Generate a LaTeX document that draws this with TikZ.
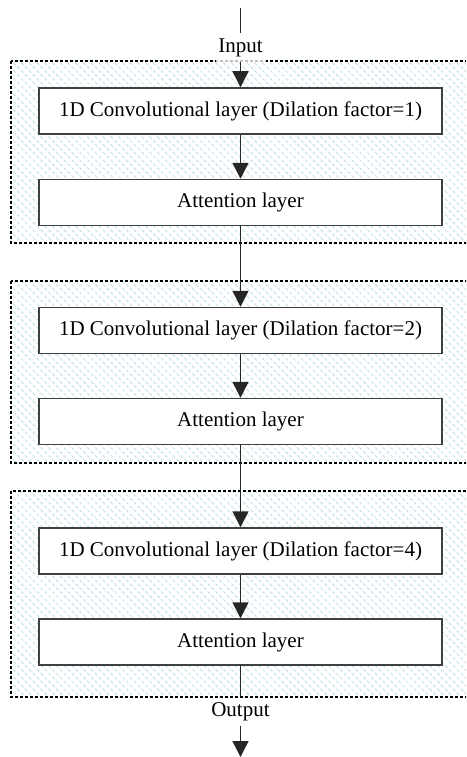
\documentclass[tikz,border=0pt]{standalone}
\usepackage{fontspec}
\setmainfont{Liberation Serif}
\usetikzlibrary{arrows.meta,patterns.meta}
\definecolor{hatch}{HTML}{C4E2EB}
\definecolor{boxline}{HTML}{404040}
\begin{document}
\begin{tikzpicture}[x=1pt,y=-1pt,
  every node/.style={font=\fontsize{21}{24}\selectfont},
  layerbox/.style={draw=boxline,line width=1.5pt,fill=white,minimum width=403pt,minimum height=46pt,inner sep=0pt},
  group/.style={draw=black,line width=1.5pt,dash pattern=on 3pt off 2pt,pattern={Lines[angle=-45,distance=5.5pt,line width=1pt]},pattern color=hatch},
  conn/.style={draw=black!85,line width=1.5pt},
  arr/.style={conn,-{Triangle[width=16pt,length=16pt]}},
  label/.style={inner sep=0pt,minimum height=29pt,text height=14pt,text depth=4pt}]
\useasboundingbox (0,0) rectangle (466,757);
\clip (0,0) rectangle (466,757);
\draw[group] (11,61) rectangle (480,243);
\draw[group] (11,281) rectangle (480,463);
\draw[group] (11,491) rectangle (480,697);
\coordinate (start) at (240.5,8);
\node[label,fill=white,fill opacity=0.75,text opacity=1,minimum width=50pt] (in) at (240.5,47.5) {Input};
\node[layerbox] (c1) at (240.5,111) {1D Convolutional layer (Dilation factor=1)};
\node[layerbox] (a1) at (240.5,202.5) {Attention layer};
\node[layerbox] (c2) at (240.5,330.5) {1D Convolutional layer (Dilation factor=2)};
\node[layerbox] (a2) at (240.5,421.5) {Attention layer};
\node[layerbox] (c3) at (240.5,551) {1D Convolutional layer (Dilation factor=4)};
\node[layerbox] (a3) at (240.5,642) {Attention layer};
\node[label] (out) at (240.5,711) {Output};
\coordinate (end) at (240.5,757);
\draw[conn] (start) -- (in.north);
\draw[arr] (in.south) -- (c1.north);
\draw[arr] (c1) -- (a1);
\draw[arr] (a1) -- (c2);
\draw[arr] (c2) -- (a2);
\draw[arr] (a2) -- (c3);
\draw[arr] (c3) -- (a3);
\draw[conn] (a3.south) -- (out.north);
\draw[arr] (out.south) -- (end);
\end{tikzpicture}
\end{document}
